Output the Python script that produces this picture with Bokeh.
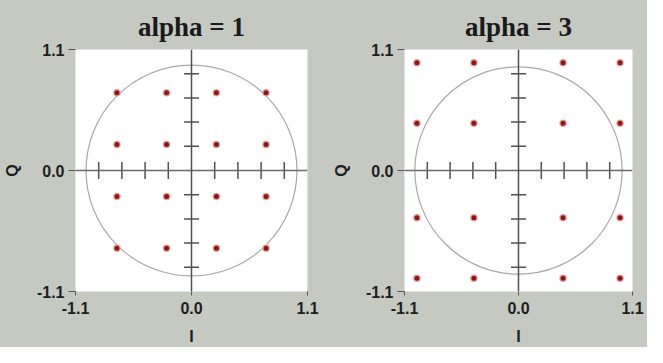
import numpy as np
from bokeh.plotting import figure
from bokeh.layouts import row
from bokeh.models import Span, FixedTicker, Range1d
from bokeh.embed import file_html
from bokeh.resources import INLINE

# ---- data ----
titles = ["alpha = 1", "alpha = 3"]
levels_a1 = [-0.707, -0.236, 0.236, 0.707]
levels_a3 = [-0.98, -0.43, 0.43, 0.98]
inner_ticks = [-0.88, -0.66, -0.44, -0.22, 0.22, 0.44, 0.66, 0.88]
axis_ticks = [-1.1, 0.0, 1.1]
axis_tick_labels = {-1.1: "-1.1", 0.0: "0.0", 1.1: "1.1"}
circle_radius = 1.0

BG = "#c5c9c2"
AX = "#505050"


def make_panel(title, levels, width, borders):
    left, right, top, bottom = borders
    p = figure(width=width, height=347, output_backend="svg", toolbar_location=None,
               x_range=Range1d(-1.1, 1.1), y_range=Range1d(-1.1, 1.1),
               min_border_left=left, min_border_right=right,
               min_border_top=top, min_border_bottom=bottom)
    p.background_fill_color = "white"
    p.border_fill_color = BG
    p.outline_line_color = None
    p.grid.visible = False

    p.title.text = title
    p.title.align = "center"
    p.title.vertical_align = "top"
    p.title.offset = -5
    p.title.text_font = "Liberation Serif"
    p.title.text_font_style = "bold"
    p.title.text_font_size = "27px"
    p.title.text_color = "#1a1a1a"
    p.title.standoff = 12

    for ax in (p.xaxis, p.yaxis):
        ax.ticker = FixedTicker(ticks=axis_ticks)
        ax.major_label_overrides = axis_tick_labels
        ax.axis_line_color = None
        ax.minor_tick_line_color = None
        ax.major_tick_in = 0
        ax.major_tick_line_color = "#555555"
        ax.major_label_text_font = "Liberation Sans"
        ax.major_label_text_font_style = "bold"
        ax.major_label_text_font_size = "16px"
        ax.major_label_text_color = "#1e1e1e"
        ax.axis_label_text_font = "Liberation Sans"
        ax.axis_label_text_font_style = "bold"
        ax.axis_label_text_font_size = "16px"
        ax.axis_label_text_color = "#1e1e1e"
    p.yaxis.major_tick_out = 7
    p.yaxis.major_label_standoff = 4
    p.yaxis.axis_label = "Q"
    p.yaxis.axis_label_standoff = 13
    p.xaxis.major_tick_out = 4
    p.xaxis.major_label_standoff = 6
    p.xaxis.axis_label = "I"
    p.xaxis.axis_label_standoff = 11

    # unit circle
    p.circle(x=[0], y=[0], radius=circle_radius, fill_color=None,
             line_color="#a8a8a8", line_width=1.2)

    # center cross
    p.add_layout(Span(location=0, dimension="width", line_color="#6a6a6a", line_width=1.5))
    p.add_layout(Span(location=0, dimension="height", line_color=AX, line_width=1.5))
    zeros = [0] * len(inner_ticks)
    p.scatter(x=inner_ticks, y=zeros, marker="dash", size=17, angle=np.pi / 2,
              line_color=AX, line_width=1.5)
    p.scatter(x=zeros, y=inner_ticks, marker="dash", size=15,
              line_color=AX, line_width=1.5)

    # constellation points
    xs = [x for x in levels for _ in levels]
    ys = [y for _ in levels for y in levels]
    p.scatter(x=xs, y=ys, size=7.5, fill_color="#e8a0a0", line_color=None)
    p.scatter(x=xs, y=ys, size=5, fill_color="#8e1818", line_color=None)
    return p


p1 = make_panel(titles[0], levels_a1, 329, (71, 22, 44, 56))
p2 = make_panel(titles[1], levels_a3, 318, (73, 15, 49, 52))

layout = row(p1, p2, spacing=0)
layout.background = BG
open("out.html", "w").write(file_html(layout, INLINE))
